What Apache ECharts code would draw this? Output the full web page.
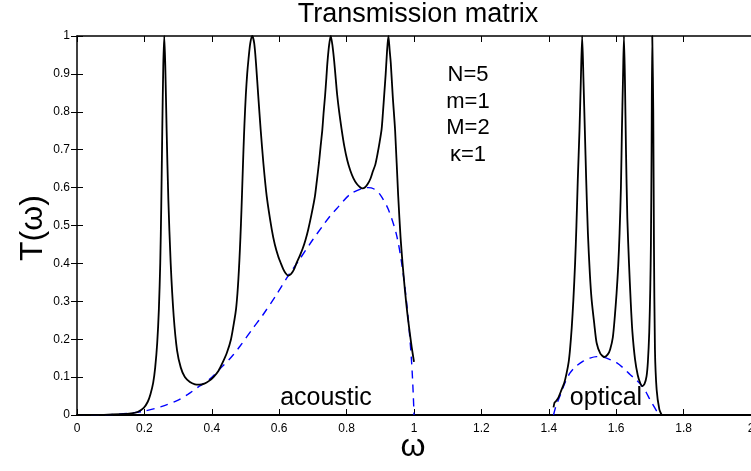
<!DOCTYPE html>
<html>
<head>
<meta charset="utf-8">
<script src="https://cdn.jsdelivr.net/npm/echarts@6/dist/echarts.min.js"></script>
<style>html,body{margin:0;padding:0;background:#fff;}#c{width:751px;height:471px;}</style>
</head>
<body>
<div id="c"></div>
<script>
// Black curve, acoustic band
var acW = [0,0.08,0.13,0.16,0.18,0.198,0.21,0.218,0.226,0.232,0.238,0.243,0.247,0.25,0.253,0.256,0.259,0.262,0.266,0.271,0.278,0.287,0.297,0.308,0.32,0.335,0.35,0.363,0.378,0.392,0.405,0.42,0.432,0.445,0.457,0.467,0.472,0.476,0.479,0.482,0.485,0.488,0.491,0.494,0.497,0.501,0.505,0.509,0.514,0.52,0.526,0.531,0.538,0.545,0.553,0.563,0.578,0.587,0.597,0.605,0.612,0.619,0.627,0.634,0.64,0.645,0.652,0.661,0.67,0.678,0.686,0.696,0.706,0.712,0.718,0.723,0.728,0.732,0.736,0.74,0.743,0.748,0.753,0.758,0.763,0.768,0.772,0.778,0.785,0.793,0.802,0.811,0.82,0.83,0.84,0.847,0.855,0.863,0.871,0.878,0.885,0.892,0.898,0.904,0.908,0.912,0.916,0.92,0.924,0.928,0.931,0.937,0.944,0.953,0.96,0.966,0.973,0.98,0.987,0.993,1.0];
var acT = [0,0.0005,0.002,0.004,0.008,0.019,0.035,0.055,0.085,0.125,0.19,0.28,0.4,0.55,0.75,0.92,1.0,0.92,0.75,0.57,0.4,0.26,0.17,0.125,0.1,0.087,0.081,0.08,0.083,0.09,0.1,0.117,0.138,0.165,0.2,0.25,0.28,0.32,0.36,0.41,0.47,0.54,0.62,0.7,0.77,0.845,0.9,0.94,0.98,1.0,0.98,0.93,0.84,0.753,0.665,0.577,0.489,0.45,0.419,0.4,0.385,0.374,0.368,0.371,0.378,0.386,0.402,0.42,0.44,0.462,0.489,0.53,0.577,0.62,0.665,0.71,0.753,0.8,0.841,0.89,0.929,0.975,1.0,0.975,0.935,0.885,0.845,0.8,0.755,0.71,0.672,0.645,0.625,0.61,0.601,0.598,0.601,0.61,0.624,0.643,0.66,0.69,0.72,0.755,0.8,0.85,0.9,0.96,1.0,0.96,0.93,0.84,0.75,0.58,0.47,0.4,0.33,0.27,0.22,0.18,0.14];
// Black curve, optical band
var opW = [1.414,1.417,1.42,1.428,1.438,1.446,1.453,1.459,1.463,1.468,1.473,1.478,1.482,1.486,1.491,1.495,1.499,1.503,1.507,1.511,1.516,1.522,1.527,1.535,1.542,1.553,1.565,1.575,1.582,1.59,1.596,1.601,1.606,1.61,1.614,1.617,1.62,1.623,1.626,1.629,1.633,1.638,1.643,1.648,1.656,1.664,1.671,1.677,1.684,1.69,1.694,1.698,1.701,1.703,1.705,1.707,1.71,1.712,1.715,1.72,1.728,1.735];
var opT = [0.02,0.033,0.035,0.045,0.067,0.085,0.111,0.14,0.173,0.23,0.305,0.4,0.5,0.62,0.75,0.88,1.0,0.88,0.75,0.62,0.48,0.37,0.305,0.24,0.19,0.162,0.153,0.16,0.173,0.205,0.261,0.32,0.393,0.48,0.6,0.753,0.88,1.0,0.88,0.7,0.52,0.4,0.3,0.22,0.146,0.105,0.085,0.076,0.082,0.102,0.14,0.217,0.33,0.45,0.7,1.0,0.8,0.45,0.173,0.067,0.015,0];
// Blue dashed envelope, acoustic
var envAcW = [0,0.1,0.15,0.198,0.25,0.297,0.33,0.363,0.393,0.43,0.46,0.484,0.523,0.55,0.59,0.627,0.66,0.7,0.73,0.751,0.771,0.81,0.847,0.864,0.88,0.899,0.924,0.949,0.969,0.983,0.993,0.998,1.0];
var envAcT = [0,0.001,0.004,0.01,0.022,0.038,0.055,0.076,0.094,0.127,0.155,0.182,0.23,0.262,0.315,0.368,0.41,0.463,0.5,0.525,0.545,0.582,0.598,0.6,0.597,0.582,0.542,0.472,0.366,0.252,0.138,0.05,0];
// Blue dashed envelope, optical
var envOpW = [1.414,1.42,1.433,1.448,1.463,1.48,1.502,1.522,1.542,1.56,1.58,1.601,1.621,1.641,1.66,1.677,1.69,1.7,1.715,1.725,1.732];
var envOpT = [0,0.02,0.05,0.085,0.111,0.128,0.142,0.15,0.154,0.153,0.147,0.138,0.124,0.107,0.092,0.076,0.058,0.041,0.018,0.004,0];
var xTicks = [0,0.2,0.4,0.6,0.8,1,1.2,1.4,1.6,1.8,2];
var yTicks = [0,0.1,0.2,0.3,0.4,0.5,0.6,0.7,0.8,0.9,1];
var paramLines = ['N=5','m=1','M=2','\u03ba=1'];

function zip(a,b){return a.map(function(v,i){return [v,b[i]];});}
var FONT = '"Liberation Sans", Arial, Helvetica, sans-serif';
var chart = echarts.init(document.getElementById('c'), null, {renderer:'canvas'});
var axBase = {
  type:'value', splitLine:{show:false},
  axisLine:{show:true, onZero:false, lineStyle:{color:'#000', width:1.5}},
  axisTick:{show:true, inside:true, length:6, lineStyle:{color:'#000', width:1}}
};
var graphics = [
  {type:'text', x:418, y:15, style:{text:'Transmission matrix', font:'27px '+FONT, fill:'#000', textAlign:'center', textVerticalAlign:'middle'}},
  {type:'text', x:413, y:447, style:{text:'\u03c9', font:'32px '+FONT, fill:'#000', textAlign:'center', textVerticalAlign:'middle'}},
  {type:'text', x:33, y:228, rotation:Math.PI/2, style:{text:'T(\u03c9)', font:'32px '+FONT, fill:'#000', textAlign:'center', textVerticalAlign:'middle'}},
  {type:'text', x:326, y:398, style:{text:'acoustic', font:'25px '+FONT, fill:'#000', textAlign:'center', textVerticalAlign:'middle'}},
  {type:'text', x:606, y:398, style:{text:'optical', font:'25px '+FONT, fill:'#000', textAlign:'center', textVerticalAlign:'middle'}}
];
paramLines.forEach(function(t,i){
  graphics.push({type:'text', x:468, y:75+i*26.5, style:{text:t, font:'22px '+FONT, fill:'#000', textAlign:'center', textVerticalAlign:'middle'}});
});
chart.setOption({
  animation:false,
  backgroundColor:'#fff',
  grid:{left:77, right:0, top:36, bottom:56, show:false, outerBoundsMode:'none', containLabel:false},
  xAxis:[
    Object.assign({}, axBase, {min:0, max:2, interval:0.2, position:'bottom',
      axisLine:{show:true, onZero:false, lineStyle:{color:'#000', width:2}},
      axisLabel:{color:'#000', fontSize:12, fontFamily:FONT, margin:8, formatter:function(v){return String(+v.toFixed(1));}}}),
    Object.assign({}, axBase, {min:0, max:2, interval:0.2, position:'top', axisLabel:{show:false}})
  ],
  yAxis:[
    Object.assign({}, axBase, {min:0, max:1, interval:0.1, position:'left',
      axisLabel:{color:'#000', fontSize:12, fontFamily:FONT, margin:7, formatter:function(v){return String(+v.toFixed(1));}}}),
    Object.assign({}, axBase, {min:0, max:1, interval:0.1, position:'right', axisLine:{show:false}, axisLabel:{show:false}})
  ],
  graphic:graphics,
  series:[
    {type:'line', data:zip(envAcW,envAcT), showSymbol:false, smooth:0.3, lineStyle:{color:'#0000ff', width:1.4, type:[8,6]}, z:2},
    {type:'line', data:zip(envOpW,envOpT), showSymbol:false, smooth:0.3, lineStyle:{color:'#0000ff', width:1.4, type:[8,6]}, z:2},
    {type:'line', data:zip(acW,acT), showSymbol:false, smooth:0.25, lineStyle:{color:'#000', width:1.8}, z:3},
    {type:'line', data:zip(opW,opT), showSymbol:false, smooth:0.25, lineStyle:{color:'#000', width:1.8}, z:3}
  ]
});
</script>
</body>
</html>
